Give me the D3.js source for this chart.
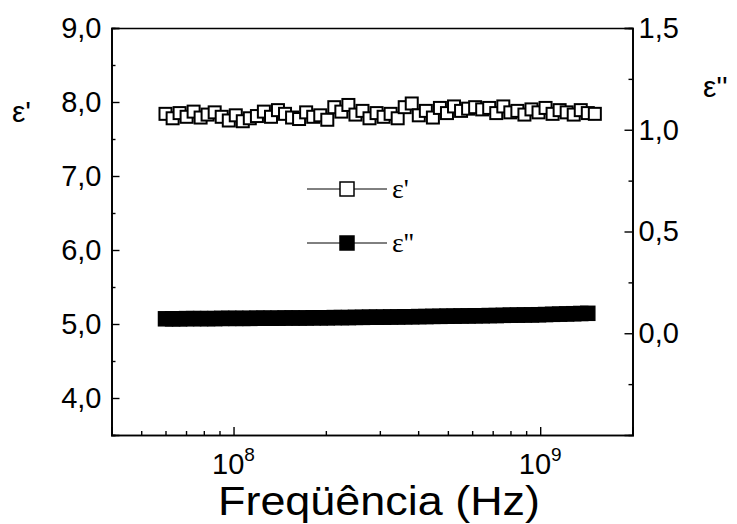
<!DOCTYPE html>
<html>
<head>
<meta charset="utf-8">
<script src="https://cdn.jsdelivr.net/npm/d3@7"></script>
<style>
  html, body { margin: 0; padding: 0; background: #fff; }
  svg { display: block; }
</style>
</head>
<body>
<svg id="chart" width="737" height="524"></svg>
<script>
// Measurement frequencies (MHz)
const freqMHz = [
  60.0, 63.3, 66.7, 70.3, 74.1, 78.1, 82.3, 86.8, 91.5, 96.5,
  101.7, 107.2, 113.0, 119.2, 125.6, 132.5, 139.6, 147.2, 155.2, 163.6,
  172.5, 181.9, 191.8, 202.2, 213.1, 224.7, 236.9, 249.8, 263.3, 277.6,
  292.7, 308.6, 325.3, 343.0, 361.6, 381.2, 401.9, 423.8, 446.8, 471.0,
  496.6, 523.6, 552.0, 582.0, 613.6, 646.9, 682.0, 719.0, 758.1, 799.2,
  842.6, 888.4, 936.6, 987.5, 1041.1, 1097.6, 1157.2, 1220.0, 1286.3, 1356.1,
  1429.7, 1507.3
];

// Real part of permittivity (left axis)
const epsReal = [
  7.84, 7.78, 7.85, 7.80, 7.87, 7.79, 7.83, 7.86, 7.80, 7.75,
  7.82, 7.74, 7.78, 7.81, 7.87, 7.80, 7.89, 7.84, 7.79, 7.77,
  7.86, 7.80, 7.82, 7.76, 7.93, 7.87, 7.96, 7.83, 7.88, 7.78,
  7.85, 7.80, 7.84, 7.78, 7.93, 7.98, 7.82, 7.88, 7.79, 7.92,
  7.85, 7.94, 7.88, 7.91, 7.93, 7.90, 7.92, 7.85, 7.94, 7.86,
  7.88, 7.83, 7.90, 7.86, 7.92, 7.84, 7.89, 7.86, 7.83, 7.89,
  7.85, 7.84
];

// Imaginary part of permittivity (right axis)
const epsImag = [
  0.071, 0.071, 0.071, 0.072, 0.072, 0.072, 0.072, 0.072, 0.073, 0.073,
  0.073, 0.073, 0.073, 0.074, 0.074, 0.074, 0.074, 0.075, 0.075, 0.075,
  0.075, 0.076, 0.076, 0.076, 0.077, 0.077, 0.077, 0.078, 0.078, 0.079,
  0.079, 0.079, 0.080, 0.080, 0.081, 0.081, 0.082, 0.082, 0.083, 0.083,
  0.084, 0.084, 0.085, 0.085, 0.086, 0.086, 0.087, 0.087, 0.088, 0.089,
  0.089, 0.090, 0.090, 0.091, 0.092, 0.093, 0.094, 0.095, 0.096, 0.097,
  0.098
];

const leftTicks = [4.0, 5.0, 6.0, 7.0, 8.0, 9.0];
const leftMinor = [3.5, 4.5, 5.5, 6.5, 7.5, 8.5];
const rightTicks = [0.0, 0.5, 1.0, 1.5];
const rightMinor = [-0.25, 0.25, 0.75, 1.25];
const xDecades = [1e8, 1e9];
const xMinor = [5e7, 6e7, 7e7, 8e7, 9e7, 2e8, 3e8, 4e8, 5e8, 6e8, 7e8, 8e8, 9e8];
const legendLabels = ["\u03b5'", "\u03b5''"];
const xTitle = "Freqüência (Hz)";

const svg = d3.select("#chart");
const L = 111.5, R = 632.5, T = 28, B = 435;
const font = "'Liberation Sans', Arial, sans-serif";
const serif = "'Liberation Serif', 'Times New Roman', serif";

const x = d3.scaleLog().domain([4e7, 2e9]).range([L, R]);
const yL = d3.scaleLinear().domain([3.5, 9.0]).range([B, T]);
const yR = d3.scaleLinear().domain([-0.5, 1.5]).range([B, T]);

const comma = d => d3.format(".1f")(d).replace(".", ",");

// Axes with inward ticks
svg.append("g").attr("transform", `translate(${L},0)`)
  .call(d3.axisLeft(yL).tickValues(leftTicks).tickSize(-8).tickPadding(10).tickFormat(comma));
svg.append("g").attr("transform", `translate(${L},0)`)
  .call(d3.axisLeft(yL).tickValues(leftMinor).tickSize(-4).tickFormat(""));

svg.append("g").attr("transform", `translate(${R},0)`)
  .call(d3.axisRight(yR).tickValues(rightTicks).tickSize(-8).tickPadding(6).tickFormat(comma));
svg.append("g").attr("transform", `translate(${R},0)`)
  .call(d3.axisRight(yR).tickValues(rightMinor).tickSize(-4).tickFormat(""));

svg.append("g").attr("transform", `translate(0,${B})`)
  .call(d3.axisBottom(x).tickValues(xDecades).tickSize(-8).tickFormat(""));
svg.append("g").attr("transform", `translate(0,${B})`)
  .call(d3.axisBottom(x).tickValues(xMinor).tickSize(-4).tickFormat(""));

// Top frame line
svg.append("g").attr("transform", `translate(0,${T})`)
  .call(d3.axisTop(x).tickValues([]).tickSizeOuter(0));

svg.selectAll(".domain").attr("stroke", "#000").attr("stroke-width", 1.7);
svg.selectAll(".tick line").attr("stroke", "#000").attr("stroke-width", 1.4);
svg.selectAll(".tick text").attr("font-family", font).attr("font-size", 29).attr("fill", "#000");

// Decade labels 10^n
const decLab = svg.append("g");
xDecades.forEach(v => {
  const t = decLab.append("text")
    .attr("x", x(v)).attr("y", 474)
    .attr("text-anchor", "middle")
    .attr("font-family", font).attr("font-size", 29);
  t.append("tspan").text("10");
  t.append("tspan").attr("dy", -13).attr("font-size", 19).text(Math.round(Math.log10(v)));
});

// Axis titles
svg.append("text").attr("x", 218).attr("y", 515)
  .attr("font-family", font).attr("font-size", 41)
  .attr("textLength", 322).attr("lengthAdjust", "spacingAndGlyphs")
  .text(xTitle);
svg.append("text").attr("x", 12).attr("y", 122)
  .attr("font-family", font).attr("font-size", 30).text(legendLabels[0]);
svg.append("text").attr("x", 703).attr("y", 97)
  .attr("font-family", font).attr("font-size", 30).text(legendLabels[1]);

// Series: ε'' (filled squares) and ε' (open squares)
const ptsReal = epsReal.map((v, i) => [x(freqMHz[i] * 1e6), yL(v)]);
const ptsImag = epsImag.map((v, i) => [x(freqMHz[i] * 1e6), yR(v)]);
const line = d3.line();

svg.append("path").attr("d", line(ptsImag)).attr("fill", "none").attr("stroke", "#000").attr("stroke-width", 1);
svg.append("g").selectAll("rect").data(ptsImag).join("rect")
  .attr("x", d => d[0] - 7).attr("y", d => d[1] - 7)
  .attr("width", 14).attr("height", 14)
  .attr("fill", "#000").attr("stroke", "#000").attr("stroke-width", 1.5);

svg.append("path").attr("d", line(ptsReal)).attr("fill", "none").attr("stroke", "#000").attr("stroke-width", 1);
svg.append("g").selectAll("rect").data(ptsReal).join("rect")
  .attr("x", d => d[0] - 6).attr("y", d => d[1] - 6)
  .attr("width", 12).attr("height", 12)
  .attr("fill", "#fff").attr("stroke", "#000").attr("stroke-width", 2);

// Legend
const legend = svg.append("g");
[[189, "#fff"], [243, "#000"]].forEach(([ly, fill], i) => {
  legend.append("line").attr("x1", 307).attr("x2", 387).attr("y1", ly).attr("y2", ly)
    .attr("stroke", "#000").attr("stroke-width", 1);
  legend.append("rect").attr("x", 347 - 7).attr("y", ly - 7).attr("width", 14).attr("height", 14)
    .attr("fill", fill).attr("stroke", "#000").attr("stroke-width", 1.5);
  legend.append("text").attr("x", 392).attr("y", ly + 9)
    .attr("font-family", serif).attr("font-size", 28)
    .text(legendLabels[i]);
});
</script>
</body>
</html>
